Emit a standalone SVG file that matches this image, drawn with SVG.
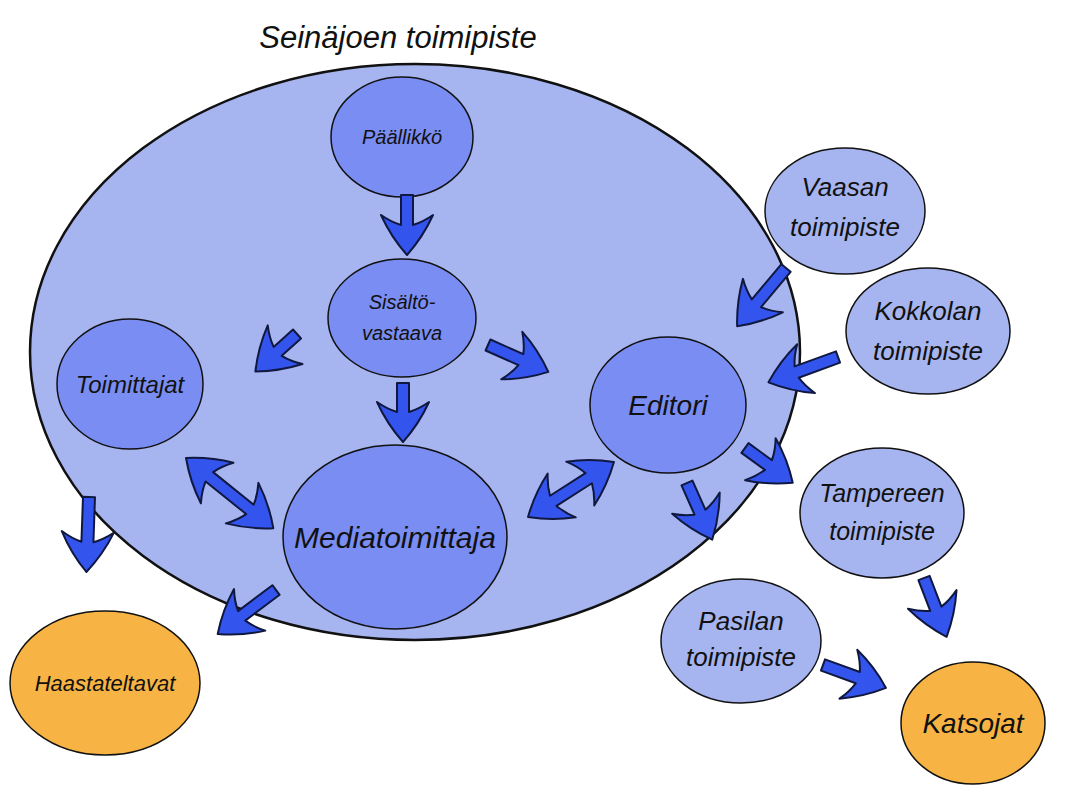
<svg xmlns="http://www.w3.org/2000/svg" width="1075" height="791" viewBox="0 0 1075 791">
<style>
.big{fill:#a6b4ef;stroke:#111;stroke-width:2.5}
.in{fill:#7a8df2;stroke:#111;stroke-width:1.5}
.out{fill:#a6b4ef;stroke:#111;stroke-width:1.5}
.or{fill:#f7b444;stroke:#111;stroke-width:1.5}
.ar{fill:#3355ee;stroke:#101840;stroke-width:2;stroke-linejoin:round}
text{font-family:"Liberation Sans",Arial,sans-serif;font-style:italic;fill:#111;text-anchor:middle}
</style>
<rect width="1075" height="791" fill="#fff"/>
<text x="398" y="48" font-size="31">Seinäjoen toimipiste</text>
<g id="seinajoki"><ellipse class="big" cx="415" cy="352" rx="385" ry="288"/></g>
<g id="paallikko"><ellipse class="in" cx="402" cy="137" rx="71" ry="60"/><text x="402" y="144" font-size="20">Päällikkö</text></g>
<g id="sisalto"><ellipse class="in" cx="402" cy="318" rx="74" ry="59"/><text x="402" y="309" font-size="20">Sisältö-</text><text x="402" y="340" font-size="20">vastaava</text></g>
<g id="toimittajat"><ellipse class="in" cx="130" cy="384" rx="73" ry="65"/><text x="130" y="393" font-size="24">Toimittajat</text></g>
<g id="editori"><ellipse class="in" cx="668" cy="405" rx="78" ry="68"/><text x="668" y="415" font-size="28">Editori</text></g>
<g id="mediatoimittaja"><ellipse class="in" cx="395" cy="537" rx="112" ry="92"/><text x="395" y="548" font-size="30">Mediatoimittaja</text></g>
<g id="vaasa"><ellipse class="out" cx="845" cy="211" rx="80" ry="63"/><text x="845" y="196" font-size="26">Vaasan</text><text x="845" y="236" font-size="26">toimipiste</text></g>
<g id="kokkola"><ellipse class="out" cx="928" cy="331" rx="82" ry="63"/><text x="928" y="320" font-size="26">Kokkolan</text><text x="928" y="360" font-size="26">toimipiste</text></g>
<g id="tampere"><ellipse class="out" cx="882" cy="513" rx="82" ry="65"/><text x="882" y="502" font-size="25">Tampereen</text><text x="882" y="540" font-size="25">toimipiste</text></g>
<g id="pasila"><ellipse class="out" cx="741" cy="641" rx="80" ry="62"/><text x="741" y="630" font-size="26">Pasilan</text><text x="741" y="666" font-size="26">toimipiste</text></g>
<g id="katsojat"><ellipse class="or" cx="973" cy="723" rx="72" ry="61"/><text x="973" y="733" font-size="28">Katsojat</text></g>
<g id="haastateltavat"><ellipse class="or" cx="105" cy="683" rx="95" ry="72"/><text x="105" y="691" font-size="22">Haastateltavat</text></g>
<g id="connectors">
<path class="ar" transform="translate(407,195) rotate(90)" d="M0,-6 H30 Q27,-16 20,-26 Q42,-16 60,0 Q42,16 20,26 Q27,16 30,6 H0 Z"/>
<path class="ar" transform="translate(297,334) rotate(138)" d="M0,-6 H26 Q23,-16 16,-26 Q38,-16 56,0 Q38,16 16,26 Q23,16 26,6 H0 Z"/>
<path class="ar" transform="translate(488,345) rotate(24)" d="M0,-6 H36 Q33,-16 26,-26 Q48,-16 66,0 Q48,16 26,26 Q33,16 36,6 H0 Z"/>
<path class="ar" transform="translate(403,383) rotate(90)" d="M0,-6 H29 Q26,-16 19,-26 Q41,-16 59,0 Q41,16 19,26 Q26,16 29,6 H0 Z"/>
<path class="ar" transform="translate(89,497) rotate(92)" d="M0,-6 H45 Q42,-16 35,-26 Q57,-16 75,0 Q57,16 35,26 Q42,16 45,6 H0 Z"/>
<path class="ar" transform="translate(186,458) rotate(38.8)" d="M0,0 Q18,-16 40,-26 Q33,-16 30,-6 H82 Q79,-16 72,-26 Q94,-16 112,0 Q94,16 72,26 Q79,16 82,6 H30 Q33,16 40,26 Q18,16 0,0 Z"/>
<path class="ar" transform="translate(528,517) rotate(-32.6)" d="M0,0 Q18,-16 40,-26 Q33,-16 30,-6 H72 Q69,-16 62,-26 Q84,-16 102,0 Q84,16 62,26 Q69,16 72,6 H30 Q33,16 40,26 Q18,16 0,0 Z"/>
<path class="ar" transform="translate(786,268) rotate(130)" d="M0,-6 H46 Q43,-16 36,-26 Q58,-16 76,0 Q58,16 36,26 Q43,16 46,6 H0 Z"/>
<path class="ar" transform="translate(838,357) rotate(160)" d="M0,-6 H44 Q41,-16 34,-26 Q56,-16 74,0 Q56,16 34,26 Q41,16 44,6 H0 Z"/>
<path class="ar" transform="translate(745,448) rotate(36)" d="M0,-6 H29 Q26,-16 19,-26 Q41,-16 59,0 Q41,16 19,26 Q26,16 29,6 H0 Z"/>
<path class="ar" transform="translate(687,483) rotate(66)" d="M0,-6 H32 Q29,-16 22,-26 Q44,-16 62,0 Q44,16 22,26 Q29,16 32,6 H0 Z"/>
<path class="ar" transform="translate(276,590) rotate(143)" d="M0,-6 H43 Q40,-16 33,-26 Q55,-16 73,0 Q55,16 33,26 Q40,16 43,6 H0 Z"/>
<path class="ar" transform="translate(924,578) rotate(69)" d="M0,-6 H33 Q30,-16 23,-26 Q45,-16 63,0 Q45,16 23,26 Q30,16 33,6 H0 Z"/>
<path class="ar" transform="translate(823,665) rotate(20)" d="M0,-6 H37 Q34,-16 27,-26 Q49,-16 67,0 Q49,16 27,26 Q34,16 37,6 H0 Z"/>
</g>
</svg>
